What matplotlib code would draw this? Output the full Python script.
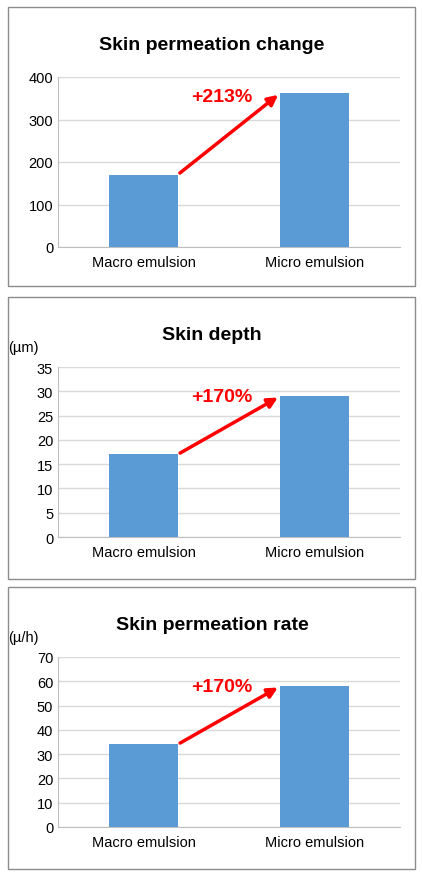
import matplotlib
matplotlib.use("Agg")
import matplotlib.pyplot as plt
from matplotlib.patches import Rectangle

W, H = 422, 878
categories = ["Macro emulsion", "Micro emulsion"]
titles = ["Skin permeation change", "Skin depth", "Skin permeation rate"]
values = [[170, 362], [17, 29], [34, 58]]
ymax = [400, 35, 70]
ystep = [100, 5, 10]
labels = ["+213%", "+170%", "+170%"]
units = [None, "(µm)", "(µ/h)"]

boxes = [(8, 8, 415, 287), (8, 298, 415, 580), (8, 588, 415, 870)]
plot_top = [78, 368, 658]

fig = plt.figure(figsize=(W/100, H/100), dpi=100)
plt.rcParams['font.family'] = ['Liberation Sans', 'DejaVu Sans']

def fx(x): return x / W
def fy(y): return 1 - y / H

for i in range(3):
    x0, y0, x1, y1 = boxes[i]
    fig.patches.append(Rectangle((fx(x0), fy(y1)), fx(x1 - x0), (y1 - y0) / H,
                                 transform=fig.transFigure, fill=False, ec="#8c8c8c", lw=1))
    top = plot_top[i]; bot = top + 170
    ax = fig.add_axes([fx(58), fy(bot), fx(400 - 58), 170 / H])
    ax.bar([0, 1], values[i], width=0.4, color="#5b9bd5", zorder=3)
    ax.set_xlim(-0.5, 1.5)
    ax.set_ylim(0, ymax[i])
    ax.set_yticks(range(0, ymax[i] + 1, ystep[i]))
    ax.set_xticks([0, 1]); ax.set_xticklabels(categories, fontsize=10.5)
    ax.tick_params(axis='y', labelsize=10.5, length=0)
    ax.tick_params(axis='x', length=0, pad=6)
    ax.grid(axis='y', color="#d9d9d9", lw=1, zorder=0)
    for s in ["top", "right"]:
        ax.spines[s].set_visible(False)
    ax.spines["left"].set_color("#bfbfbf"); ax.spines["bottom"].set_color("#bfbfbf")
    ax.annotate("", xy=(0.8, values[i][1]), xytext=(0.2, values[i][0]),
                arrowprops=dict(arrowstyle="-|>,head_length=0.6,head_width=0.3", color="red", lw=2.5), zorder=5)
    ax.text(0.28, values[i][0] + (values[i][1] - values[i][0]) * 0.85, labels[i], color="red",
            fontsize=14, fontweight="bold", ha="left", va="bottom", zorder=6)
    fig.text(fx(212), fy(top - 32), titles[i], ha="center", va="center", fontsize=14, fontweight="bold")
    if units[i]:
        fig.text(fx(8), fy(top - 20), units[i], ha="left", va="center", fontsize=10.5)

fig.savefig("out.png", dpi=100)
